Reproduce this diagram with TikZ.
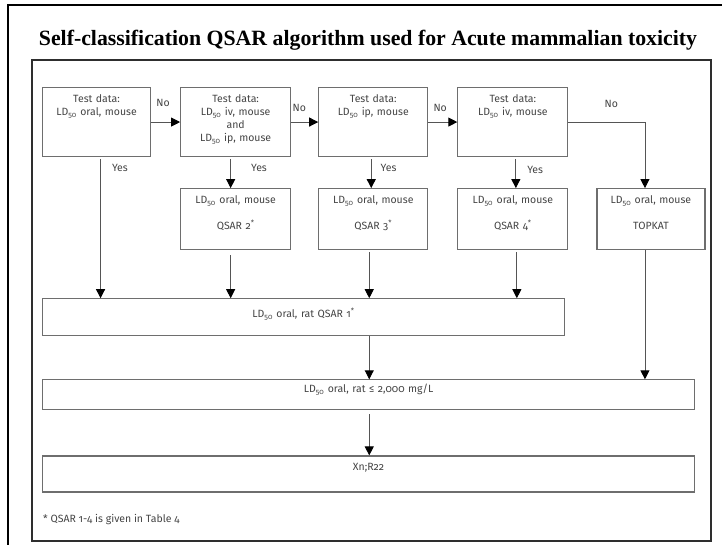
\documentclass[tikz,border=0pt]{standalone}
\usepackage{fontspec}
\setmainfont{Liberation Serif}
\newfontfamily\boxfont[Numbers=OldStyle]{Fira Sans}
\usetikzlibrary{positioning,arrows.meta}

\definecolor{framegray}{HTML}{2E2E2E}
\definecolor{boxgray}{HTML}{6E6E6E}
\definecolor{textgray}{HTML}{444444}
\definecolor{linegray}{HTML}{555555}

\newcommand{\LDfifty}{LD\textsubscript{50}}

\tikzset{
	test/.style={draw=boxgray, line width=1.1pt, inner sep=0pt, text width=#1, align=center,
		text height=15pt, text depth=54pt, text=textgray, font=\boxfont\fontsize{10.5}{13}\selectfont},
	model/.style={test=#1, text depth=46pt},
	wide/.style={draw=boxgray, line width=1.1pt, inner sep=0pt, text width=#1, align=center,
		text=textgray, font=\boxfont\fontsize{10.5}{13}\selectfont},
	lbl/.style={inner sep=0pt, text=textgray, font=\boxfont\fontsize{10.5}{13}\selectfont},
	arr/.style={draw=linegray, line width=0.9pt, -{Triangle[width=9pt,length=9pt,color=black]}},
}

\begin{document}
\begin{tikzpicture}[x=1pt, y=1pt]
	\useasboundingbox (0,0) rectangle (722,-544);

	% frames and title
	\draw[line width=2.5pt] (8,-546) -- (8,-5) -- (724,-5);
	\draw[framegray, line width=2pt] (32,-60) rectangle (711,-541);
	\node[font=\bfseries\fontsize{21.8}{26}\selectfont] (t) at (368,-40)
		{Self-classification QSAR algorithm used for Acute mammalian toxicity};

	% test data
	\node[test=108pt, anchor=north west] (a) at (42,-87) {Test data:\\ \LDfifty{} oral, mouse};
	\node[test=110pt, right=29pt of a] (b) {Test data:\\ \LDfifty{} iv, mouse\\ and\\ \LDfifty{} ip, mouse};
	\node[test=109pt, right=27pt of b] (c) {Test data:\\ \LDfifty{} ip, mouse};
	\node[test=110pt, right=29pt of c] (d) {Test data:\\ \LDfifty{} iv, mouse};

	% models
	\node[model=110pt, below=31pt of b] (b2) {\LDfifty{} oral, mouse\\[13pt] QSAR 2\textsuperscript{*}};
	\node[model=109pt, below=31pt of c] (c2) {\LDfifty{} oral, mouse\\[13pt] QSAR 3\textsuperscript{*}};
	\node[model=110pt, below=31pt of d] (d2) {\LDfifty{} oral, mouse\\[13pt] QSAR 4\textsuperscript{*}};
	\node[model=108pt, right=28pt of d2] (e) {\LDfifty{} oral, mouse\\[13pt] TOPKAT};

	% results
	\coordinate (fq) at (a.west |- b2.south);
	\node[wide=522pt, text height=19pt, text depth=18pt, below right=48pt and 0pt of fq] (f)
		{\LDfifty{} oral, rat QSAR 1\textsuperscript{*}};
	\node[wide=652pt, text height=13pt, text depth=17pt, below right=43pt and 0pt of f.south west] (g)
		{\LDfifty{} oral, rat ≤ 2,000 mg/L};
	\node[wide=652pt, text height=15pt, text depth=21pt, below right=45pt and 0pt of g.south west] (h)
		{Xn;R22};
	\node[lbl, anchor=north west, below right=22pt and 1pt of h.south west] (n)
		{* QSAR 1-4 is given in Table 4};

	% no
	\draw[arr] (a) -- node[lbl, pos=0.41, above=15pt] {No} (b);
	\draw[arr] (b) -- node[lbl, pos=0.3, above=10pt] {No} (c);
	\draw[arr] (c) -- node[lbl, pos=0.41, above=10pt] {No} (d);
	\draw[arr] (d) -| node[lbl, pos=0.28, above=14pt] {No} ([xshift=-6pt]e.north);

	% yes
	\draw[arr] ([xshift=4pt,yshift=-2pt]a.south) -- node[lbl, pos=0.065, right=11pt] {Yes} ([xshift=4pt]a.south |- f.north);
	\draw[arr] ([xshift=-5pt,yshift=-2pt]b.south) -- node[lbl, pos=0.31, right=20pt] {Yes} ([xshift=-5pt]b2.north);
	\draw[arr] ([xshift=-2pt,yshift=-2pt]c.south) -- node[lbl, pos=0.31, right=9pt] {Yes} ([xshift=-2pt]c2.north);
	\draw[arr] ([xshift=3pt,yshift=-2pt]d.south) -- node[lbl, pos=0.38, right=11pt] {Yes} ([xshift=3pt]d2.north);

	% into QSAR 1 and below
	\draw[arr] ([xshift=-5pt,yshift=-5pt]b2.south) -- ([xshift=-5pt]b2.south |- f.north);
	\draw[arr] ([xshift=-4pt,yshift=-2pt]c2.south) -- ([xshift=-4pt]c2.south |- f.north);
	\draw[arr] ([xshift=4pt,yshift=-2pt]d2.south) -- ([xshift=4pt]d2.south |- f.north);
	\draw[arr] ([xshift=-4pt]c2.south |- f.south) -- ([xshift=-4pt]c2.south |- g.north);
	\draw[arr] ([xshift=-6pt]e.south) -- ([xshift=-6pt]e.south |- g.north);
	\draw[arr] ([xshift=-4pt,yshift=-4pt]c2.south |- g.south) -- ([xshift=-4pt]c2.south |- h.north);
\end{tikzpicture}
\end{document}
